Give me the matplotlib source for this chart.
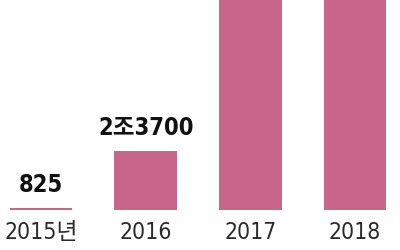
import matplotlib.pyplot as plt

plt.rcParams['font.family'] = ['DejaVu Sans', 'Noto Sans CJK KR']
plt.rcParams['font.stretch'] = 'condensed'

# 연도별 값 (2017, 2018은 그림 위로 잘려 있음 -> 추정치)
years = ["2015년", "2016", "2017", "2018"]
values = [825, 23700, 98000, 96000]
value_labels = ["825", "2조3700", "", ""]

bar_color = "#C8668A"

fig = plt.figure(figsize=(4, 2.5), dpi=100)
ax = fig.add_axes([0, 0.16, 1, 0.84])

x = list(range(len(years)))
bars = ax.bar(x, values, width=0.6, color=bar_color)

for xi, v, lab in zip(x, values, value_labels):
    if lab:
        ax.annotate(lab, (xi, v), xytext=(0, 8), textcoords="offset points",
                    ha="center", va="bottom", fontsize=17, fontweight="bold",
                    color="#111111")

ax.set_xlim(-0.392, 3.43)
ax.set_ylim(0, 84300)
ax.set_xticks(x)
ax.set_xticklabels(years, fontsize=16.5, color="#2a2a2a")
ax.tick_params(axis="x", length=0, pad=8)
ax.set_yticks([])
for s in ax.spines.values():
    s.set_visible(False)

fig.savefig("out.png", dpi=100)
